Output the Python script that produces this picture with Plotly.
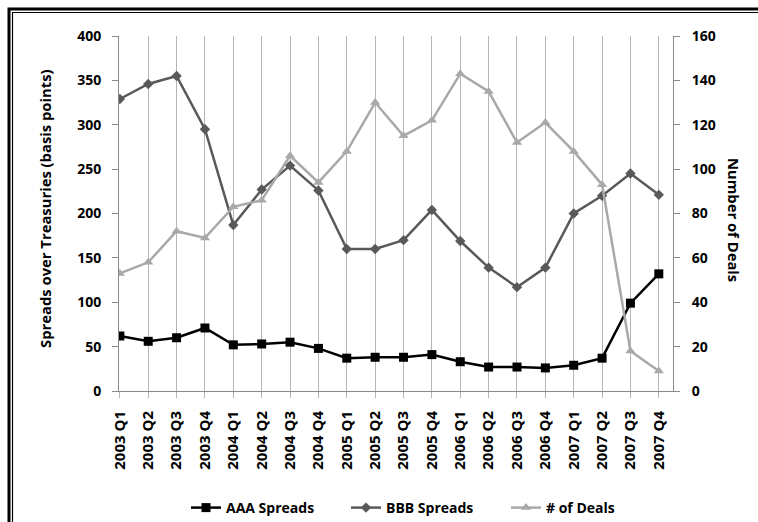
import plotly.graph_objects as go

quarters = [
    "2003 Q1", "2003 Q2", "2003 Q3", "2003 Q4",
    "2004 Q1", "2004 Q2", "2004 Q3", "2004 Q4",
    "2005 Q1", "2005 Q2", "2005 Q3", "2005 Q4",
    "2006 Q1", "2006 Q2", "2006 Q3", "2006 Q4",
    "2007 Q1", "2007 Q2", "2007 Q3", "2007 Q4",
]
aaa_spreads = [62, 56, 60, 71, 52, 53, 55, 48, 37, 38, 38, 41, 33, 27, 27, 26, 29, 37, 99, 132]
bbb_spreads = [329, 346, 355, 295, 187, 227, 254, 226, 160, 160, 170, 204, 169, 139, 117, 139, 200, 220, 245, 221]
num_deals = [53, 58, 72, 69, 83, 86, 106, 94, 108, 130, 115, 122, 143, 135, 112, 121, 108, 93, 18, 9]

W, H = 758, 522
L, R, T, B = 119, 85, 36, 131
PW, PH = W - L - R, H - T - B


def px(x):
    return (x - L) / PW


def py(y):
    return 1 - (y - T) / PH


font = dict(family="Open Sans", size=14, color="black", weight="bold")
xfont = dict(family="Open Sans", size=15, color="black", weight="bold")
title_font = dict(family="Open Sans", size=14.8, color="black", weight="bold")

fig = go.Figure(layout={"width": W, "height": H})
fig.add_trace(go.Scatter(
    x=quarters, y=aaa_spreads, name="AAA Spreads", mode="lines+markers",
    line=dict(color="black", width=2.5),
    marker=dict(symbol="square", size=9, color="black"),
))
fig.add_trace(go.Scatter(
    x=quarters, y=bbb_spreads, name="BBB Spreads", mode="lines+markers",
    line=dict(color="#595959", width=2.5),
    marker=dict(symbol="diamond", size=8, color="#595959"),
))
fig.add_trace(go.Scatter(
    x=quarters, y=num_deals, name="# of Deals", mode="lines+markers", yaxis="y2",
    line=dict(color="#a9a9a9", width=2.5),
    marker=dict(symbol="triangle-up", size=9, color="#a9a9a9"),
))

fig.update_layout(
    margin=dict(l=L, r=R, t=T, b=B, autoexpand=False),
    paper_bgcolor="white",
    plot_bgcolor="white",
    font=font,
    xaxis=dict(
        type="category", range=[-0.03, 19.5], automargin=False,
        showgrid=True, gridcolor="#b5b5b5", gridwidth=1,
        showline=True, linecolor="#8a8a8a", linewidth=1,
        ticks="outside", ticklen=6, tickcolor="#b5b5b5",
        tickangle=-90, tickfont=xfont, ticklabelstandoff=7,
    ),
    yaxis=dict(
        range=[0, 400], dtick=50, showgrid=False, zeroline=False, automargin=False,
        showline=True, linecolor="#8a8a8a", linewidth=1,
        ticks="outside", ticklen=6, tickcolor="#8a8a8a",
        tickfont=font, ticklabelstandoff=8,
    ),
    yaxis2=dict(
        overlaying="y", side="right", automargin=False,
        range=[0, 160], dtick=20, showgrid=False, zeroline=False,
        showline=True, linecolor="#8a8a8a", linewidth=1,
        ticks="outside", ticklen=6, tickcolor="#8a8a8a",
        tickfont=font, ticklabelstandoff=9,
    ),
    legend=dict(
        orientation="h", x=px(186), xanchor="left", y=py(508), yanchor="middle",
        font=font, itemwidth=30, traceorder="normal",
        entrywidth=115, entrywidthmode="pixels",
    ),
    showlegend=True,
)

fig.add_annotation(
    text="Spreads over Treasuries (basis points)", textangle=-90, showarrow=False,
    xref="paper", yref="paper", x=px(45), y=py(209),
    xanchor="center", yanchor="middle", font=title_font,
)
fig.add_annotation(
    text="Number of Deals", textangle=90, showarrow=False,
    xref="paper", yref="paper", x=px(734), y=py(220),
    xanchor="center", yanchor="middle", font=title_font,
)

# the frame around the chart
fig.add_shape(type="path", xref="paper", yref="paper",
              path=f"M {px(9)},{py(530)} L {px(9)},{py(9)} L {px(770)},{py(9)}",
              line=dict(color="black", width=3))
fig.add_shape(type="path", xref="paper", yref="paper",
              path=f"M {px(12.5)},{py(530)} L {px(12.5)},{py(12.5)} L {px(770)},{py(12.5)}",
              line=dict(color="black", width=1.2))

fig.write_html("out.html", config={"displayModeBar": False},
               post_script="document.body.style.margin='0px';")
